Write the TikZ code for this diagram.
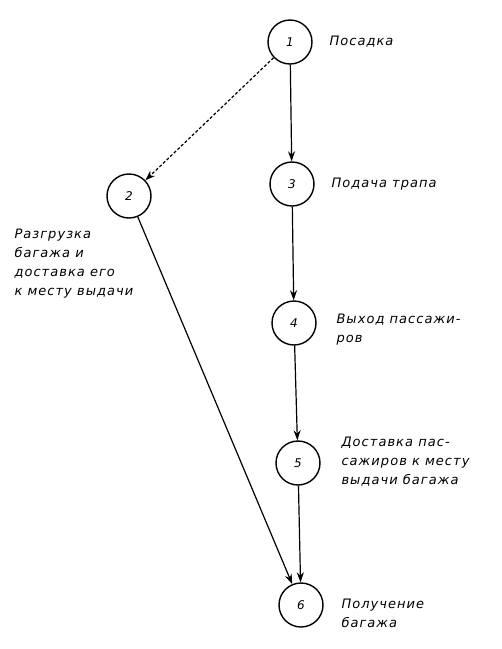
\documentclass[tikz,border=0pt]{standalone}
\usepackage{fontspec}
\setmainfont{DejaVu Sans}
\usepackage{tikz}
\usetikzlibrary{positioning, arrows.meta}

\begin{document}
\begin{tikzpicture}[
  x=1pt, y=-1pt,
  event/.style={draw, circle, line width=1.4pt, minimum size=44pt, inner sep=0pt, font=\itshape\fontsize{12}{14}\selectfont},
  note/.style={anchor=west, align=left, font=\itshape\fontsize{13}{19}\selectfont\addfontfeature{LetterSpace=8}},
  arrow/.style={-{Stealth[length=10pt, width=7pt]}, line width=1.2pt},
  dotarrow/.style={-{Stealth[length=10pt, width=7pt]}, line width=1.2pt, dash pattern=on 3pt off 2pt}
]
  \useasboundingbox (0,0) rectangle (502,649);

  % Events
  \node[event] (e1) at (290,42) {1};
  \node[event] (e2) at (129,196) {2};
  \node[event] (e3) at (292,184) {3};
  \node[event] (e4) at (294,323) {4};
  \node[event] (e5) at (298,463) {5};
  \node[event] (e6) at (301,605) {6};

  % Labels
  \node[note] (l1) at (326,42) {Посадка};
  \node[note] (l3) at (328,184) {Подача трапа};
  \node[note] (l4) at (333,330) {Выход пассажи-\\ров};
  \node[note] (l5) at (338,462) {Доставка пас-\\сажиров к месту\\выдачи багажа};
  \node[note] (l6) at (338,613) {Получение\\багажа};
  \node[note] (l2) at (11,264) {Разгрузка\\багажа и\\доставка его\\к месту выдачи};

  % Arrows
  \draw[dotarrow] (e1) -- (e2);
  \draw[arrow] (e1) -- (e3);
  \draw[arrow] (e3) -- (e4);
  \draw[arrow] (e4) -- (e5);
  \draw[arrow] (e5) -- (e6);
  \draw[arrow] (e2) -- (e6);

\end{tikzpicture}
\end{document}
